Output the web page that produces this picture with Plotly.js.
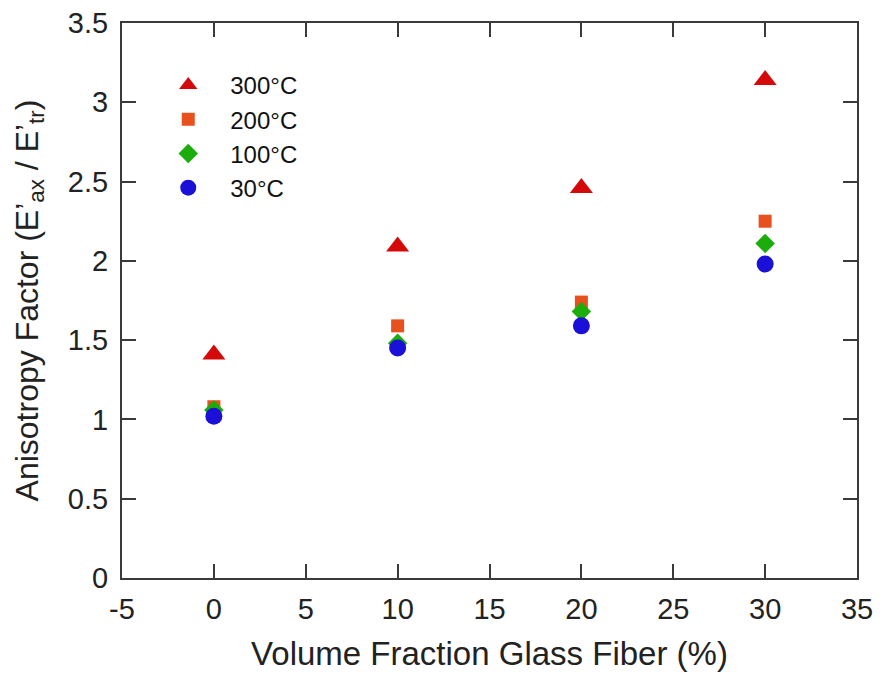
<!DOCTYPE html>
<html>
<head>
<meta charset="utf-8">
<script src="https://cdn.plot.ly/plotly-3.0.1.min.js"></script>
<style>html,body{margin:0;padding:0;background:#fff;}</style>
</head>
<body>
<div id="chart" style="width:883px;height:675px;"></div>
<script>
const fraction = [0, 10, 20, 30];
const seriesNames = ["300°C", "200°C", "100°C", "30°C"];
const t300 = [1.41, 2.09, 2.46, 3.14];
const t200 = [1.08, 1.59, 1.74, 2.25];
const t100 = [1.06, 1.48, 1.68, 2.11];
const t30 = [1.02, 1.45, 1.59, 1.98];
const xTicks = [-5, 0, 5, 10, 15, 20, 25, 30, 35];
const yTicks = [0, 0.5, 1, 1.5, 2, 2.5, 3, 3.5];

const FONT = "Liberation Sans, Arial, sans-serif";
const traces = [
  {x: fraction, y: t300, name: seriesNames[0], type: "scatter", mode: "markers",
   marker: {symbol: "triangle-up", size: 20, color: "#d40a0a"}},
  {x: fraction, y: t200, name: seriesNames[1], type: "scatter", mode: "markers",
   marker: {symbol: "square", size: 13, color: "#e8501e"}},
  {x: fraction, y: t100, name: seriesNames[2], type: "scatter", mode: "markers",
   marker: {symbol: "diamond", size: 15, color: "#1aad0c"}},
  {x: fraction, y: t30, name: seriesNames[3], type: "scatter", mode: "markers",
   marker: {symbol: "circle", size: 17, color: "#1a10d8"}}
];

const axisCommon = {
  showgrid: false, zeroline: false, showline: true, mirror: "ticks",
  linecolor: "#3a3a3a", linewidth: 2, ticks: "inside", ticklen: 14,
  tickwidth: 2, tickcolor: "#3a3a3a",
  tickfont: {family: FONT, size: 29, color: "#222"}
};

const layout = {
  width: 883, height: 675,
  margin: {l: 122, r: 26, t: 23, b: 97},
  paper_bgcolor: "#fff", plot_bgcolor: "#fff",
  showlegend: true,
  legend: {x: 0.033, y: 0.928, xanchor: "left", yanchor: "top",
    font: {family: FONT, size: 24, color: "#111"},
    bgcolor: "rgba(0,0,0,0)", itemwidth: 74, tracegroupgap: 0},
  xaxis: Object.assign({}, axisCommon, {
    range: [-5, 35], tickvals: xTicks, ticktext: xTicks.map(String), ticklabelstandoff: 4,
    title: {text: "Volume Fraction Glass Fiber (%)", font: {family: FONT, size: 33, color: "#222"}, standoff: 18}
  }),
  yaxis: Object.assign({}, axisCommon, {
    range: [0, 3.5], tickvals: yTicks, ticktext: yTicks.map(String), ticklabelstandoff: 6,
    title: {text: "Anisotropy Factor (E’<sub>ax</sub> / E’<sub>tr</sub>)", font: {family: FONT, size: 32, color: "#222"}, standoff: 20}
  })
};

Plotly.newPlot("chart", traces, layout, {displayModeBar: false, staticPlot: true});
</script>
</body>
</html>
